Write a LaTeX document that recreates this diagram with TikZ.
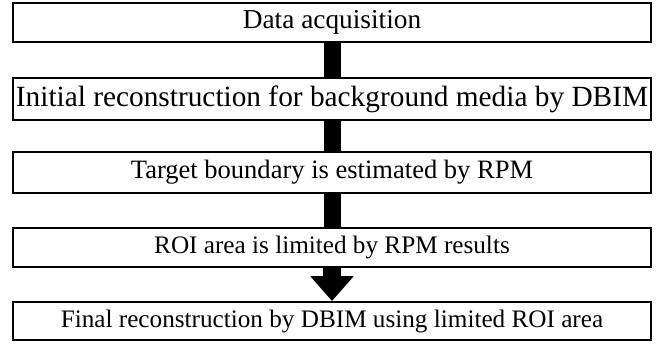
\documentclass[tikz,border=0pt]{standalone}
\usepackage{fontspec}
\setmainfont{Liberation Serif}
\usetikzlibrary{arrows.meta}
\begin{document}
\begin{tikzpicture}[x=0.75pt,y=-0.75pt,
  box/.style={draw=black, line width=1.4pt, fill=white, inner sep=0pt,
    minimum width=478.5pt, anchor=center},
  bar/.style={line width=12.75pt, black},
  bigarrow/.style={line width=13.5pt, black, -{Triangle[width=31.5pt,length=18.75pt]}}]
\useasboundingbox (0,0) rectangle (661,344);
\node[box, minimum height=29.25pt, font=\fontsize{20.5}{24}\selectfont] (b1) at (332,22.5) {Data acquisition};
\node[box, minimum height=31.5pt, font=\fontsize{22}{26}\selectfont] (b2) at (332,99) {Initial reconstruction for background media by DBIM};
\node[box, minimum height=30.75pt, font=\fontsize{19.9}{24}\selectfont] (b3) at (332,172.5) {Target boundary is estimated by RPM};
\node[box, minimum height=29.25pt, font=\fontsize{18.9}{23}\selectfont] (b4) at (332,247.5) {ROI area is limited by RPM results};
\node[box, minimum height=28.5pt, font=\fontsize{18.9}{23}\selectfont] (b5) at (332,321) {Final reconstruction by DBIM using limited ROI area};
\draw[bar] (b1.south) -- (b2.north);
\draw[bar] (b2.south) -- (b3.north);
\draw[bar] (b3.south) -- (b4.north);
\draw[bigarrow] (b4.south) -- (b5.north);
\end{tikzpicture}
\end{document}
